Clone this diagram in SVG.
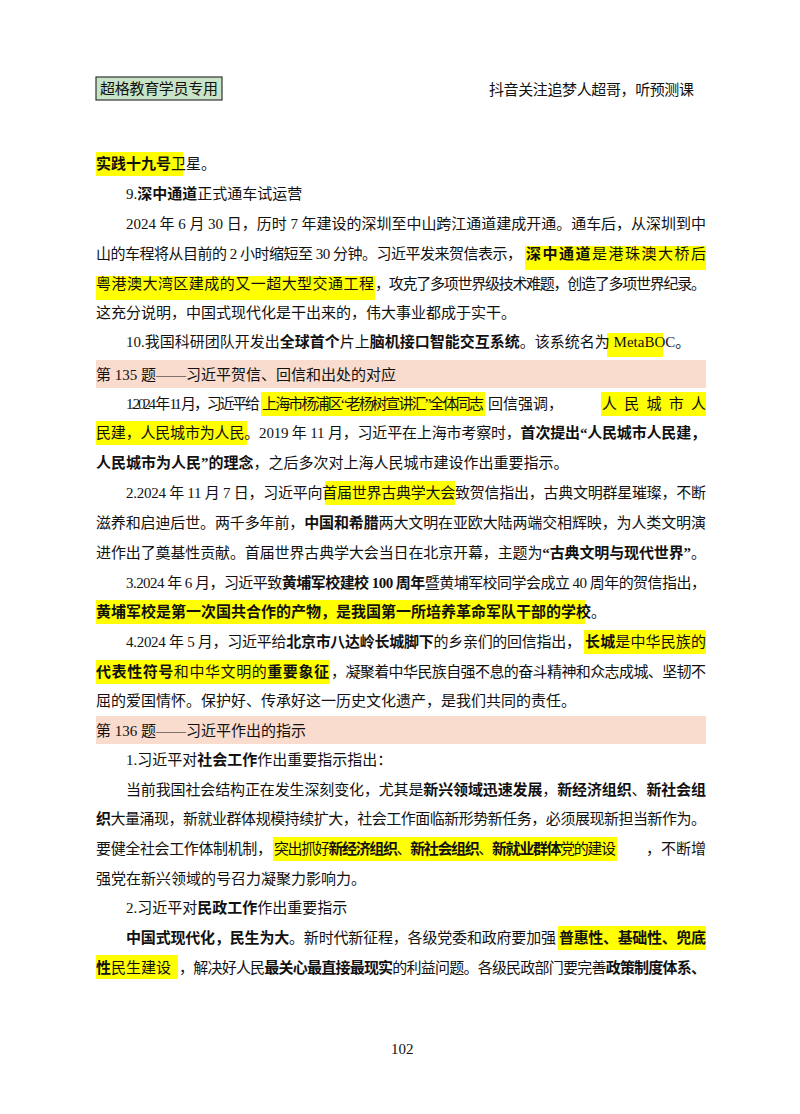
<svg xmlns="http://www.w3.org/2000/svg" width="800" height="1114" viewBox="0 0 800 1114">
<style>
text{font-family:"Liberation Serif","Noto Sans CJK SC",serif;font-size:15px;fill:#111}
.b{font-weight:bold}
.hl{fill:#ffff00}
.band{fill:#f9dccd}
</style>
<rect width="800" height="1114" fill="#fff"/>
<g id="header">
<rect x="96" y="77" width="126" height="23" fill="#c8e3c6" stroke="#333" stroke-width="1.2"/>
<text x="100" y="94" textLength="118">超格教育学员专用</text>
<text x="489" y="95" textLength="205">抖音关注追梦人超哥，听预测课</text>
</g>
<g id="highlights">
<rect class="hl" x="96" y="152" width="87" height="24"/>
<rect class="hl" x="525" y="246" width="181" height="24"/>
<rect class="hl" x="96" y="276" width="279" height="24"/>
<rect class="hl" x="607" y="333" width="56" height="24"/>
<rect class="hl" x="261" y="392" width="224" height="24"/>
<rect class="hl" x="601" y="392" width="105" height="24"/>
<rect class="hl" x="96" y="421" width="151" height="24"/>
<rect class="hl" x="325" y="481" width="130" height="24"/>
<rect class="hl" x="96" y="600" width="489" height="24"/>
<rect class="hl" x="584" y="630" width="122" height="24"/>
<rect class="hl" x="96" y="660" width="234" height="24"/>
<rect class="hl" x="273" y="837" width="344" height="24"/>
<rect class="hl" x="558" y="926" width="148" height="24"/>
<rect class="hl" x="96" y="955" width="82" height="24"/>
<rect class="band" x="96" y="360" width="610" height="28"/>
<rect class="band" x="96" y="716" width="610" height="28"/>
</g>
<g id="body">
<text x="96" y="169"><tspan class="b">实践十九号</tspan>卫星。</text>
<text x="126" y="199">9.<tspan class="b">深中通道</tspan>正式通车试运营</text>
<text x="126" y="229" textLength="580">2024 年 6 月 30 日，历时 7 年建设的深圳至中山跨江通道建成开通。通车后，从深圳到中</text>
<text x="96" y="259" textLength="426">山的车程将从目前的 2 小时缩短至 30 分钟。习近平发来贺信表示，</text>
<text x="526" y="259" textLength="180"><tspan class="b">深中通道</tspan>是港珠澳大桥后</text>
<text x="96" y="289" textLength="278">粤港澳大湾区建成的又一超大型交通工程</text>
<text x="375" y="289" textLength="331">，攻克了多项世界级技术难题，创造了多项世界纪录。</text>
<text x="96" y="318">这充分说明，中国式现代化是干出来的，伟大事业都成于实干。</text>
<text x="126" y="347">10.我国科研团队开发出<tspan class="b">全球首个</tspan>片上<tspan class="b">脑机接口智能交互系统</tspan>。该系统名为 MetaBOC。</text>
<text x="96" y="380">第 135 题——习近平贺信、回信和出处的对应</text>
<text x="126" y="409" font-size="13.5" textLength="134">1.2024 年 11 月，习近平给</text>
<text x="262" y="409" font-size="13.5" textLength="222">上海市杨浦区“老杨树宣讲汇”全体同志</text>
<text x="488" y="409">回信强调，</text>
<text x="602" y="409" textLength="104">人民城市人</text>
<text x="96" y="438" textLength="610">民建，人民城市为人民。2019 年 11 月，习近平在上海市考察时，<tspan class="b">首次提出“人民城市人民建，</tspan></text>
<text x="96" y="468"><tspan class="b">人民城市为人民”的理念</tspan>，之后多次对上海人民城市建设作出重要指示。</text>
<text x="126" y="498" textLength="580">2.2024 年 11 月 7 日，习近平向首届世界古典学大会致贺信指出，古典文明群星璀璨，不断</text>
<text x="96" y="528" textLength="610">滋养和启迪后世。两千多年前，<tspan class="b">中国和希腊</tspan>两大文明在亚欧大陆两端交相辉映，为人类文明演</text>
<text x="96" y="558" textLength="610">进作出了奠基性贡献。首届世界古典学大会当日在北京开幕，主题为<tspan class="b">“古典文明与现代世界”</tspan>。</text>
<text x="126" y="588" textLength="580">3.2024 年 6 月，习近平致<tspan class="b">黄埔军校建校 100 周年</tspan>暨黄埔军校同学会成立 40 周年的贺信指出，</text>
<text x="96" y="617" class="b">黄埔军校是第一次国共合作的产物，是我国第一所培养革命军队干部的学校<tspan font-weight="normal">。</tspan></text>
<text x="126" y="647" textLength="455">4.2024 年 5 月，习近平给<tspan class="b">北京市八达岭长城脚下</tspan>的乡亲们的回信指出，</text>
<text x="585" y="647" textLength="121"><tspan class="b">长城</tspan>是中华民族的</text>
<text x="96" y="677" textLength="233"><tspan class="b">代表性符号</tspan>和中华文明的<tspan class="b">重要象征</tspan></text>
<text x="331" y="677" textLength="375">，凝聚着中华民族自强不息的奋斗精神和众志成城、坚韧不</text>
<text x="96" y="706">屈的爱国情怀。保护好、传承好这一历史文化遗产，是我们共同的责任。</text>
<text x="96" y="736">第 136 题——习近平作出的指示</text>
<text x="126" y="765">1.习近平对<tspan class="b">社会工作</tspan>作出重要指示指出：</text>
<text x="126" y="795" textLength="580">当前我国社会结构正在发生深刻变化，尤其是<tspan class="b">新兴领域迅速发展</tspan>，<tspan class="b">新经济组织</tspan>、<tspan class="b">新社会组</tspan></text>
<text x="96" y="824" textLength="610"><tspan class="b">织</tspan>大量涌现，新就业群体规模持续扩大，社会工作面临新形势新任务，必须展现新担当新作为。</text>
<text x="96" y="854" textLength="176">要健全社会工作体制机制，</text>
<text x="274" y="854" textLength="342">突出抓好<tspan class="b">新经济组织</tspan>、<tspan class="b">新社会组织</tspan>、<tspan class="b">新就业群体</tspan>党的建设</text>
<text x="706" y="854" text-anchor="end">，不断增</text>
<text x="96" y="884">强党在新兴领域的号召力凝聚力影响力。</text>
<text x="126" y="913">2.习近平对<tspan class="b">民政工作</tspan>作出重要指示</text>
<text x="126" y="943" textLength="430"><tspan class="b">中国式现代化，民生为大</tspan>。新时代新征程，各级党委和政府要加强</text>
<text x="559" y="943" textLength="147" class="b">普惠性、基础性、兜底</text>
<text x="96" y="973"><tspan class="b">性</tspan>民生建设</text>
<text x="179" y="973" textLength="527">，解决好人民<tspan class="b">最关心最直接最现实</tspan>的利益问题。各级民政部门要完善<tspan class="b">政策制度体系、</tspan></text>
<text x="391" y="1054" font-size="13">102</text>
</g>
</svg>
